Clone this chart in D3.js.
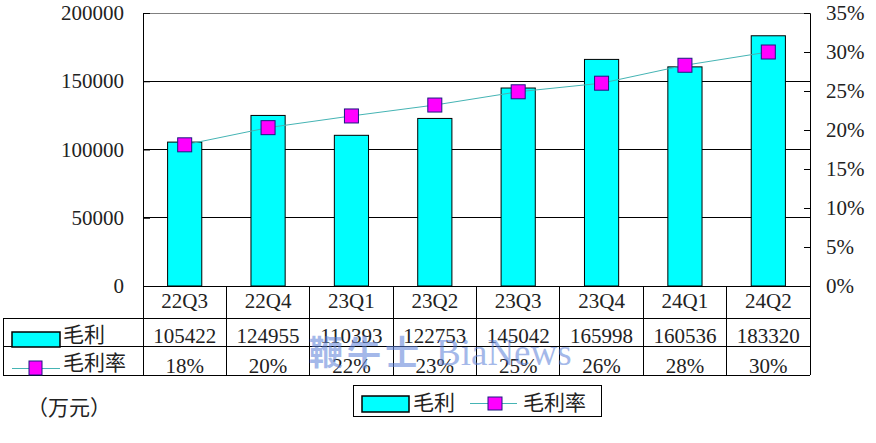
<!DOCTYPE html>
<html><head><meta charset="utf-8">
<script src="https://cdn.jsdelivr.net/npm/d3@7"></script>
<style>body{margin:0;background:#fff}svg{display:block}</style>
</head><body>
<svg id="c" width="876" height="443"></svg>
<script>
const categories = ["22Q3","22Q4","23Q1","23Q2","23Q3","23Q4","24Q1","24Q2"];
const grossProfit = [105422,124955,110393,122753,145042,165998,160536,183320];
const grossMargin = [0.181,0.203,0.218,0.232,0.249,0.260,0.283,0.300];
const leftTicks = [0,50000,100000,150000,200000];
const rightTicks = [0,0.05,0.10,0.15,0.20,0.25,0.30,0.35];
const seriesNames = ["毛利","毛利率"];
const unitLabel = "（万元）";
const watermarkCn = "鞭牛士";
const watermarkEn = "BiaNews";

const svg = d3.select("#c");
const L = 143, R = 810, T = 13, B = 286;
const serif = "'Liberation Serif','DejaVu Serif',serif";
const cjk = "'Noto Sans CJK SC','Noto Sans',sans-serif";
const barFill = "#00ffff", mFill = "#ff00ff", mStroke = "#1a1a80", lineCol = "#45b4b4";

const x = d3.scaleBand().domain(categories).range([L, R]).paddingInner(0).paddingOuter(0);
const yL = d3.scaleLinear().domain([0, 200000]).range([B, T]);
const yR = d3.scaleLinear().domain([0, 0.35]).range([B, T]);

// gridlines
svg.append("g").selectAll("line").data(leftTicks.filter(d => d > 0 && d < 200000)).join("line")
  .attr("x1", L).attr("x2", R).attr("y1", d => yL(d)).attr("y2", d => yL(d))
  .attr("stroke", "#000").attr("stroke-width", 1).attr("shape-rendering","crispEdges");
svg.append("line").attr("x1", L).attr("x2", R).attr("y1", yL(200000)).attr("y2", yL(200000))
  .attr("stroke", "#808080").attr("shape-rendering","crispEdges");

// bars
const bw = x.bandwidth() * 0.41;
svg.append("g").selectAll("rect").data(categories).join("rect")
  .attr("x", d => x(d) + x.bandwidth()/2 - bw/2)
  .attr("y", (d,i) => yL(grossProfit[i]))
  .attr("width", bw)
  .attr("height", (d,i) => yL(0) - yL(grossProfit[i]))
  .attr("fill", barFill).attr("stroke", "#000").attr("stroke-width", 1);

// left axis
const axL = svg.append("g").attr("transform", `translate(${L},0)`)
  .call(d3.axisLeft(yL).tickValues(leftTicks).tickSize(-7).tickPadding(19).tickFormat(d3.format("d")));
axL.select(".domain").attr("stroke", "#000");
axL.selectAll(".tick line").attr("stroke", "#000");
axL.selectAll("text").attr("font-family", serif).attr("font-size", 21).attr("fill", "#222");

// right axis
const axR = svg.append("g").attr("transform", `translate(${R},0)`)
  .call(d3.axisRight(yR).tickValues(rightTicks).tickSize(-6).tickPadding(16).tickFormat(d3.format(".0%")));
axR.select(".domain").attr("stroke", "#000");
axR.selectAll(".tick line").attr("stroke", "#000");
axR.selectAll("text").attr("font-family", serif).attr("font-size", 21).attr("fill", "#222");

// margin line + markers
const line = d3.line().x((d,i) => x(categories[i]) + x.bandwidth()/2).y(d => yR(d));
svg.append("path").datum(grossMargin).attr("d", line).attr("fill", "none")
  .attr("stroke", lineCol).attr("stroke-width", 1);
const ms = 14;
svg.append("g").selectAll("rect").data(grossMargin).join("rect")
  .attr("x", (d,i) => x(categories[i]) + x.bandwidth()/2 - ms/2)
  .attr("y", d => yR(d) - ms/2).attr("width", ms).attr("height", ms)
  .attr("fill", mFill).attr("stroke", mStroke).attr("stroke-width", 1);

// data table
const r0 = B, r1 = 318, r2 = 346, r3 = 375, tL = 3;
const tbl = svg.append("g").attr("stroke", "#000").attr("stroke-width", 1).attr("shape-rendering","crispEdges");
tbl.append("line").attr("x1", L).attr("x2", R).attr("y1", r0).attr("y2", r0);
[r1, r2, r3].forEach(y => tbl.append("line").attr("x1", tL).attr("x2", R).attr("y1", y).attr("y2", y));
tbl.append("line").attr("x1", tL).attr("x2", tL).attr("y1", r1).attr("y2", r3);
const bounds = categories.map(d => x(d)).concat([R]);
tbl.selectAll(".v").data(bounds).join("line").attr("class","v")
  .attr("x1", d => d).attr("x2", d => d).attr("y1", r0).attr("y2", r3);

const cx = d => x(d) + x.bandwidth()/2;
svg.append("g").selectAll("text").data(categories).join("text")
  .attr("x", d => cx(d)).attr("y", 308).attr("text-anchor", "middle")
  .attr("font-family", serif).attr("font-size", 21).attr("fill", "#222").text(d => d);
svg.append("g").selectAll("text").data(grossProfit).join("text")
  .attr("x", (d,i) => cx(categories[i])).attr("y", 343).attr("text-anchor", "middle")
  .attr("font-family", serif).attr("font-size", 21).attr("fill", "#222").text(d => d);
svg.append("g").selectAll("text").data(grossMargin).join("text")
  .attr("x", (d,i) => cx(categories[i])).attr("y", 373).attr("text-anchor", "middle")
  .attr("font-family", serif).attr("font-size", 21).attr("fill", "#222").text(d => d3.format(".0%")(d));

// row keys
svg.append("rect").attr("x", 12).attr("y", 332).attr("width", 48).attr("height", 15)
  .attr("fill", barFill).attr("stroke", "#000").attr("stroke-width", 1.5);
svg.append("text").attr("x", 63).attr("y", 342).attr("font-family", cjk).attr("font-size", 21)
  .attr("fill", "#222").text(seriesNames[0]);
svg.append("line").attr("x1", 12).attr("x2", 60).attr("y1", 368.5).attr("y2", 368.5).attr("stroke", lineCol);
svg.append("rect").attr("x", 29).attr("y", 361).attr("width", 13).attr("height", 14)
  .attr("fill", mFill).attr("stroke", mStroke);
svg.append("text").attr("x", 63).attr("y", 370).attr("font-family", cjk).attr("font-size", 21)
  .attr("fill", "#222").text(seriesNames[1]);

// unit label
svg.append("text").attr("x", 27).attr("y", 415).attr("font-family", cjk).attr("font-size", 21)
  .attr("fill", "#222").text(unitLabel);

// legend
const lg = svg.append("g");
lg.append("rect").attr("x", 353.5).attr("y", 385.5).attr("width", 248).attr("height", 31)
  .attr("fill", "#fff").attr("stroke", "#000");
lg.append("rect").attr("x", 362).attr("y", 396).attr("width", 47).attr("height", 16)
  .attr("fill", barFill).attr("stroke", "#000").attr("stroke-width", 1.5);
lg.append("text").attr("x", 413).attr("y", 410).attr("font-family", cjk).attr("font-size", 21)
  .attr("fill", "#222").text(seriesNames[0]);
lg.append("line").attr("x1", 470).attr("x2", 517).attr("y1", 403.5).attr("y2", 403.5).attr("stroke", lineCol);
lg.append("rect").attr("x", 488).attr("y", 397).attr("width", 14).attr("height", 13)
  .attr("fill", mFill).attr("stroke", mStroke);
lg.append("text").attr("x", 523).attr("y", 410).attr("font-family", cjk).attr("font-size", 21)
  .attr("fill", "#222").text(seriesNames[1]);

// watermark
const wm = svg.append("text").attr("y", 365).attr("fill", "#5a7fd8").attr("opacity", 0.55);
wm.append("tspan").attr("x", 309).attr("font-family", cjk).attr("font-weight", "bold")
  .attr("font-size", 34).attr("letter-spacing", 4).text(watermarkCn);
wm.append("tspan").attr("x", 436).attr("font-family", serif).attr("font-size", 37)
  .text(watermarkEn);
</script>
</body></html>
